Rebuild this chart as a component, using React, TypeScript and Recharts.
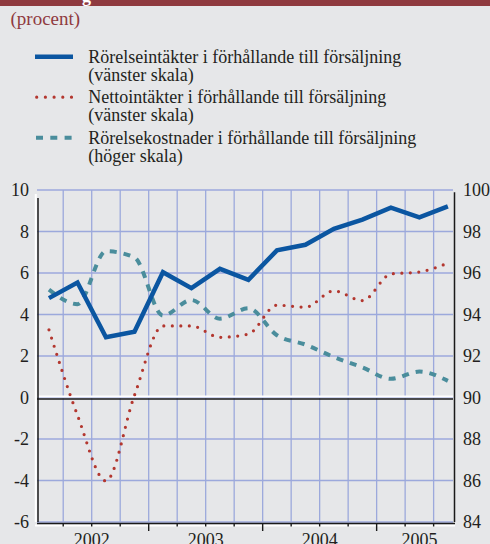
import React from 'react';
import { LineChart, Line, XAxis, YAxis, ReferenceLine } from 'recharts';

const FONT = '"Liberation Serif", "Times New Roman", serif';
const TEXT = '#231f20';
const GRID = '#9ca9dc';
const BG = '#e6e7e9';
const MAROON = '#8f3a3f';

// quarter mid points (years), 2002 K1 .. 2005 K3
const periods = ['2002K1', '2002K2', '2002K3', '2002K4', '2003K1', '2003K2', '2003K3', '2003K4', '2004K1', '2004K2', '2004K3', '2004K4', '2005K1', '2005K2', '2005K3'];
const periodTime = [2002.125, 2002.375, 2002.625, 2002.875, 2003.125, 2003.375, 2003.625, 2003.875, 2004.125, 2004.375, 2004.625, 2004.875, 2005.125, 2005.375, 2005.625];

// vänster skala
const rorelseintakter = [4.79, 5.54, 2.9, 3.17, 6.04, 5.27, 6.2, 5.67, 7.09, 7.36, 8.13, 8.57, 9.15, 8.68, 9.21];
const nettointakter = [3.26, -0.85, -4.02, 0.1, 3.45, 3.45, 2.9, 3.06, 4.45, 4.35, 5.14, 4.67, 5.95, 6.05, 6.48];
// höger skala
const rorelsekostnader = [95.2, 94.5, 97.05, 96.75, 93.95, 94.7, 93.8, 94.3, 93.0, 92.55, 91.95, 91.45, 90.9, 91.25, 90.8];

const xDomain = [2002.02, 2005.67];
const quarterBounds = [2002.25, 2002.5, 2002.75, 2003, 2003.25, 2003.5, 2003.75, 2004, 2004.25, 2004.5, 2004.75, 2005, 2005.25, 2005.5];
const yearBounds = [2003, 2004, 2005];
const yearLabels = [
  { at: 2002.5, text: '2002' },
  { at: 2003.5, text: '2003' },
  { at: 2004.5, text: '2004' },
  { at: 2005.375, text: '2005' },
];
const leftTicks = [-6, -4, -2, 0, 2, 4, 6, 8, 10];
const rightTicks = [84, 86, 88, 90, 92, 94, 96, 98, 100];

const legendItems = [
  { lines: ['Rörelseintäkter i förhållande till försäljning', '(vänster skala)'], kind: 'solid' },
  { lines: ['Nettointäkter i förhållande till försäljning', '(vänster skala)'], kind: 'dot' },
  { lines: ['Rörelsekostnader i förhållande till försäljning', '(höger skala)'], kind: 'dash' },
];

const data = periods.map((p, i) => ({
  period: p,
  t: periodTime[i],
  rorelse: rorelseintakter[i],
  netto: nettointakter[i],
  kostnad: rorelsekostnader[i],
}));

const xTicks = Array.from(new Set([...quarterBounds, ...yearLabels.map((l) => l.at)])).sort((a, b) => a - b);

const XTick = ({ x, y, payload }: any) => {
  const v = payload.value;
  const bound = quarterBounds.includes(v);
  const year = yearBounds.includes(v);
  const label = yearLabels.find((l) => l.at === v);
  return (
    <g>
      {bound && <line x1={x} x2={x} y1={y + 1} y2={y + (year ? 9 : 4.5)} stroke="#1a1a1a" strokeWidth={1.4} />}
      {label && (
        <text x={x} y={y + 23.5} textAnchor="middle" fontFamily={FONT} fontSize={18} fill={TEXT}>
          {label.text}
        </text>
      )}
    </g>
  );
};

const zeroLine = (p: any) => (
  <g>
    <line x1={p.x1} x2={p.x2} y1={p.y1 - 1} y2={p.y2 - 1} stroke="#ffffff" strokeWidth={2} />
    <line x1={p.x1} x2={p.x2} y1={p.y1 + 1.5} y2={p.y2 + 1.5} stroke="#1a1a1a" strokeWidth={1.5} />
  </g>
);

const bottomLine = (p: any) => (
  <g>
    <line x1={p.x1 - 2} x2={p.x2 + 2} y1={p.y1 + 3.5} y2={p.y2 + 3.5} stroke="#ffffff" strokeWidth={2} />
    <line x1={p.x1} x2={p.x2 + 2} y1={p.y1 + 1.5} y2={p.y2 + 1.5} stroke="#1a1a1a" strokeWidth={1.5} />
  </g>
);

const leftLine = (p: any) => (
  <g>
    <line x1={p.x1 - 1.2} x2={p.x2 - 1.2} y1={p.y1} y2={p.y2 + 4} stroke="#ffffff" strokeWidth={2} />
    <line x1={p.x1 + 1} x2={p.x2 + 1} y1={p.y1} y2={p.y2 + 8} stroke="#1a1a1a" strokeWidth={1.5} />
  </g>
);

const rightLine = (p: any) => (
  <g>
    <line x1={p.x1 + 1.5} x2={p.x2 + 1.5} y1={p.y1} y2={p.y2 + 2.3} stroke="#1a1a1a" strokeWidth={1.5} />
  </g>
);

function Header() {
  return (
    <svg width={490} height={180} style={{ position: 'absolute', left: 0, top: 0, pointerEvents: 'none' }}>
      <defs>
        <clipPath id="bar">
          <rect x={0} y={0} width={490} height={6} />
        </clipPath>
      </defs>
      <rect x={0} y={0} width={490} height={6} fill={MAROON} />
      <text x={82} y={1.5} fontFamily={FONT} fontWeight="bold" fontSize={18} fill="#ffffff" clipPath="url(#bar)">
        g
      </text>
      <text x={10.5} y={25} fontFamily={FONT} fontSize={19} fill={MAROON}>
        (procent)
      </text>
      {legendItems.map((item, i) => {
        const cy = 56.7 + i * 40.5;
        return (
          <g key={i}>
            {item.kind === 'solid' && <line x1={35} x2={73} y1={cy} y2={cy} stroke="#0b56a1" strokeWidth={4.5} />}
            {item.kind === 'dot' && (
              <line x1={36.7} x2={72} y1={cy} y2={cy} stroke="#b3372f" strokeWidth={3.2} strokeDasharray="0 8.7" strokeLinecap="round" />
            )}
            {item.kind === 'dash' && (
              <line x1={36} x2={73.5} y1={cy} y2={cy} stroke="#4a8d9c" strokeWidth={4} strokeDasharray="7 7.3" />
            )}
            {item.lines.map((ln, j) => (
              <text key={j} x={88.3} y={cy + 5.8 + j * 18} fontFamily={FONT} fontSize={18} fill={TEXT}>
                {ln}
              </text>
            ))}
          </g>
        );
      })}
    </svg>
  );
}

export default function App() {
  return (
    <div style={{ position: 'absolute', left: 0, top: 0, width: 490, height: 544, background: BG, overflow: 'hidden' }}>
      <LineChart width={490} height={544} data={data} margin={{ top: 190, right: 0, bottom: 0, left: 0 }}>
        <XAxis
          dataKey="t"
          type="number"
          domain={xDomain}
          allowDataOverflow
          ticks={xTicks}
          interval={0}
          tick={<XTick />}
          tickLine={false}
          axisLine={false}
          tickSize={0}
          tickMargin={0}
          height={22}
        />
        <YAxis
          yAxisId="left"
          domain={[-6, 10]}
          ticks={leftTicks}
          interval={0}
          allowDataOverflow
          width={37}
          axisLine={false}
          tickLine={false}
          tick={{ fontFamily: FONT, fontSize: 18, fill: TEXT }}
        />
        <YAxis
          yAxisId="right"
          orientation="right"
          domain={[84, 100]}
          ticks={rightTicks}
          interval={0}
          allowDataOverflow
          width={37}
          axisLine={false}
          tickLine={false}
          tickMargin={4}
          tick={{ fontFamily: FONT, fontSize: 18, fill: TEXT }}
        />
        {leftTicks.map((v) => (
          <ReferenceLine key={'h' + v} yAxisId="left" y={v} stroke={GRID} strokeWidth={1.3} />
        ))}
        {quarterBounds.map((q) => (
          <ReferenceLine key={'v' + q} yAxisId="left" x={q} stroke={GRID} strokeWidth={1.3} />
        ))}
        <ReferenceLine yAxisId="left" y={0} shape={zeroLine} />
        <ReferenceLine yAxisId="left" y={-6} shape={bottomLine} />
        <ReferenceLine yAxisId="left" x={xDomain[0]} shape={leftLine} />
        <ReferenceLine yAxisId="left" x={xDomain[1]} shape={rightLine} />
        <Line
          yAxisId="right"
          dataKey="kostnad"
          type="monotone"
          stroke="#4a8d9c"
          strokeWidth={4}
          strokeDasharray="7 7"
          dot={false}
          activeDot={false}
          isAnimationActive={false}
        />
        <Line
          yAxisId="left"
          dataKey="netto"
          type="monotone"
          stroke="#b3372f"
          strokeWidth={3.2}
          strokeDasharray="0 8.5"
          strokeLinecap="round"
          dot={false}
          activeDot={false}
          isAnimationActive={false}
        />
        <Line
          yAxisId="left"
          dataKey="rorelse"
          type="linear"
          stroke="#0b56a1"
          strokeWidth={4.5}
          dot={false}
          activeDot={false}
          isAnimationActive={false}
        />
      </LineChart>
      <Header />
    </div>
  );
}
